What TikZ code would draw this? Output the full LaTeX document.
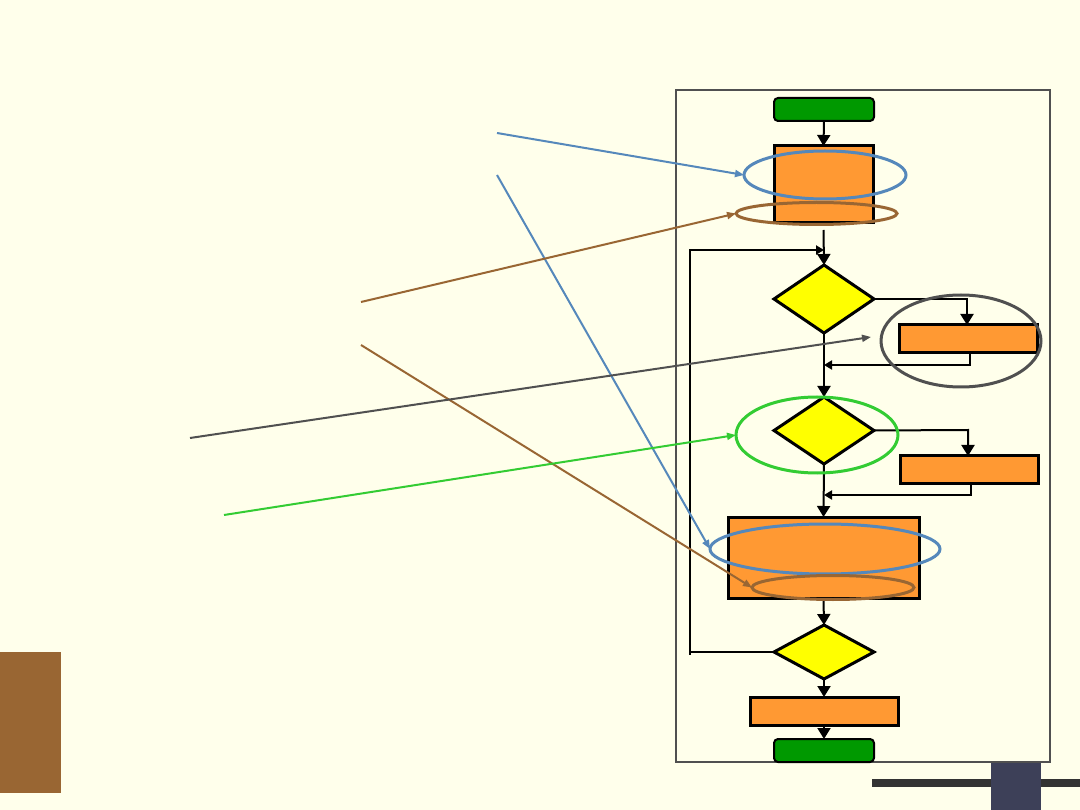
\documentclass[tikz,border=0pt]{standalone}
\usetikzlibrary{shapes.geometric,arrows.meta}
\definecolor{bg}{HTML}{FFFFEB}
\definecolor{brn}{HTML}{996633}
\definecolor{org}{HTML}{FF9933}
\definecolor{grn}{HTML}{009900}
\definecolor{blu}{HTML}{5588BB}
\definecolor{dgr}{HTML}{505050}
\definecolor{lgr}{HTML}{33CC33}
\definecolor{ylw}{HTML}{FFFF00}
\definecolor{slate}{HTML}{3D4058}
\tikzset{
  box/.style={draw=black,line width=3pt,fill=org,inner sep=0,outer sep=0},
  term/.style={draw=black,line width=2pt,fill=grn,rounded corners=4pt,minimum width=100pt,minimum height=23pt,inner sep=0,outer sep=0},
  dia/.style={diamond,draw=black,line width=3pt,fill=ylw,inner sep=0,outer sep=0},
  flow/.style={line width=2pt,-{Triangle[width=13pt,length=11pt]}},
  thin/.style={line width=2pt,-{Triangle[width=9pt,length=8pt]}},
  ring/.style={ellipse,line width=3pt,inner sep=0,outer sep=0},
  ptr/.style={line width=2pt,-{Triangle[width=7pt,length=9pt]}}
}
\begin{document}
\begin{tikzpicture}[x=1pt,y=-1pt]
\fill[bg] (0,0) rectangle (1080,810);
\useasboundingbox (0,0) rectangle (1080,810);
% decorations
\fill[brn] (0,652) rectangle (61,793);
\fill[black!80] (872,779) rectangle (1080,787);
\fill[slate] (991,762) rectangle (1041,810);
% frame
\draw[dgr,line width=1.5pt] (676,90) rectangle (1050,762);
% flowchart nodes
\node[term] (start) at (824,109.5) {};
\node[box,minimum width=99pt,minimum height=77pt] (b1) at (823.5,184.5) {};
\node[dia,minimum width=100pt,minimum height=68pt] (d1) at (824,299) {};
\node[box,minimum width=138pt,minimum height=28pt] (b2) at (968,339) {};
\node[dia,minimum width=100pt,minimum height=67pt] (d2) at (824,430.5) {};
\node[box,minimum width=138pt,minimum height=27pt] (b3) at (969,469.5) {};
\node[box,minimum width=191pt,minimum height=81pt] (b4) at (823.5,557.5) {};
\node[dia,minimum width=100pt,minimum height=54pt] (d3) at (824,652) {};
\node[box,minimum width=148pt,minimum height=28pt] (b5) at (824,711) {};
\node[term] (stop) at (824,750.5) {};
% helper coordinates
\coordinate (j1) at (824,250);
\coordinate (lp) at (690,652);
\coordinate (r1) at (967,299);
\coordinate (s1) at (970,365);
\coordinate (j2) at (824,365);
\coordinate (r2) at (968,430);
\coordinate (s2) at (971,495);
\coordinate (j3) at (824,495);
% connectors
\draw[flow] (start.south) -- (b1.north);
\draw[flow] ([yshift=-7pt]b1.south) -- (d1.north);
\draw[flow] (d1.east) -- (r1) -- (b2.north -| r1);
\draw[thin] (b2.south -| s1) -- (s1) -- (j2);
\draw[flow] (d1.south) -- (d2.north);
\draw[flow] (d2.east) -- (r2) -- (b3.north -| r2);
\draw[thin] (b3.south -| s2) -- (s2) -- (j3);
\draw[flow] (d2.south) -- (b4.north);
\draw[flow] (b4.south) -- (d3.north);
\draw[flow] (d3.south) -- (b5.north);
\draw[flow] (b5.south) -- (stop.north);
\draw[thin] (d3.west) -- (lp) -- (lp |- j1) -- (j1);
\draw[line width=2pt] (lp) -- ++(0,3);
% highlight rings
\node[ring,draw=blu,minimum width=162pt,minimum height=48pt] (eb1) at (825,175) {};
\node[ring,draw=brn,minimum width=161pt,minimum height=22pt] (ew1) at (816.5,213.5) {};
\node[ring,draw=dgr,minimum width=160pt,minimum height=92pt] (eg) at (961,341) {};
\node[ring,draw=lgr,minimum width=162pt,minimum height=76pt] (el) at (817,435) {};
\node[ring,draw=blu,minimum width=230pt,minimum height=50pt] (eb2) at (825,549) {};
\node[ring,draw=brn,minimum width=162pt,minimum height=24pt] (ew2) at (833,587.5) {};
% pointer free ends
\coordinate (p1) at (497,133);
\coordinate (p2) at (497,175);
\coordinate (p3) at (361,302);
\coordinate (p4) at (361,345);
\coordinate (p5) at (190,438);
\coordinate (p6) at (224,515);
\draw[ptr,blu] (p1) -- (eb1.west);
\draw[ptr,blu] (p2) -- (eb2.west);
\draw[ptr,brn] (p3) -- (ew1.west);
\draw[ptr,brn] (p4) -- (ew2.west);
\draw[ptr,dgr] (p5) -- ([xshift=-10pt,yshift=4pt]eg.west);
\draw[ptr,lgr] (p6) -- (el.west);
\end{tikzpicture}
\end{document}
